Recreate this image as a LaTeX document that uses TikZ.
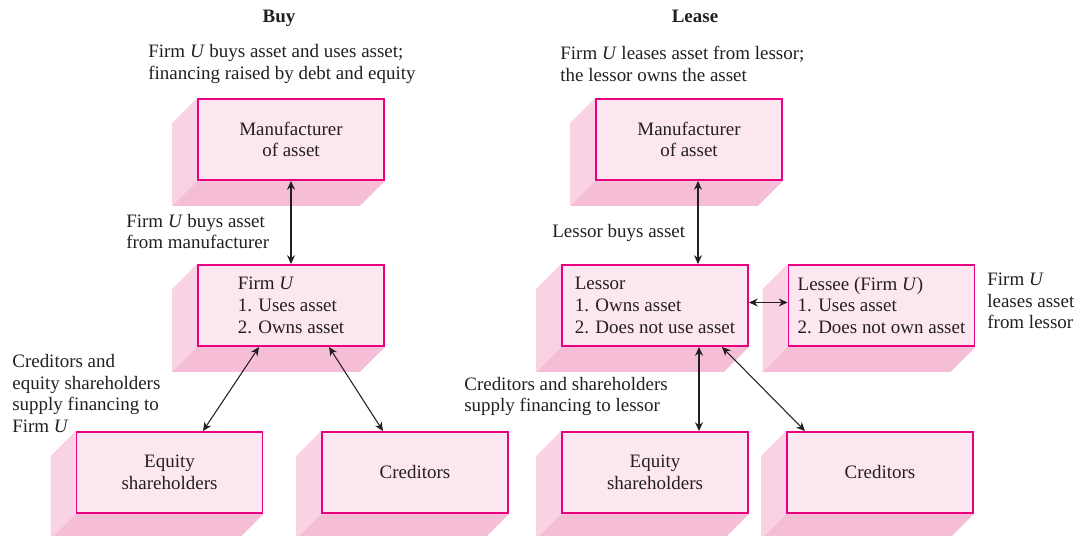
\documentclass[tikz,border=0pt]{standalone}
\usepackage{fontspec}
\setmainfont{Liberation Serif}
\usetikzlibrary{arrows.meta, positioning, calc, backgrounds}

\definecolor{boxrim}{RGB}{232,0,128}
\definecolor{boxfill}{RGB}{252,230,240}
\definecolor{sideface}{RGB}{249,210,228}
\definecolor{bottomface}{RGB}{246,190,214}
\definecolor{inkgray}{RGB}{35,31,32}

\begin{document}
\begin{tikzpicture}[x=0.02cm, y=-0.02cm, >={Stealth[length=5pt,width=4.5pt]},
        every node/.style={font=\fontsize{10.8}{12.4}\selectfont, inner sep=0pt, text=inkgray},
        block/.style={draw=boxrim, line width=1.1pt, fill=boxfill, minimum width=3.72cm, minimum height=1.62cm, align=center},
        listblock/.style={block, align=left},
        note/.style={anchor=west, align=left},
        heading/.style={anchor=base, font=\fontsize{10.8}{12.4}\selectfont\bfseries},
        link/.style={<->, line width=0.6pt, inkgray}]
        \useasboundingbox (0,0) rectangle (1078,536);
        % Headings
        \node[heading] (buytitle) at (279,23) {Buy};
        \node[heading] (leasetitle) at (695,23) {Lease};
        \node[note] (buytext) at (148,64) {Firm \textit{U} buys asset and uses asset;\\financing raised by debt and equity};
        \node[note] (leasetext) at (560,64) {Firm \textit{U} leases asset from lessor;\\the lessor owns the asset};
        % Buy side
        \node[block] (bman) at (291,139.5) {Manufacturer\\of asset};
        \node[listblock] (bfirm) at (291,305.5) {Firm \textit{U}\\1. Uses asset\\2. Owns asset};
        \node[block] (bequity) at (169.5,472.5) {Equity\\shareholders};
        \node[block] (bcred) at (415,472.5) {Creditors};
        % Lease side
        \node[block] (lman) at (689,139.5) {Manufacturer\\of asset};
        \node[listblock] (lessor) at (655,305.5) {Lessor\\1. Owns asset\\2. Does not use asset};
        \node[listblock] (lessee) at (881.5,305.5) {Lessee (Firm \textit{U})\\1. Uses asset\\2. Does not own asset};
        \node[block] (lequity) at (655,472.5) {Equity\\shareholders};
        \node[block] (lcred) at (880,472.5) {Creditors};
        % Side faces of the boxes
        \begin{scope}[on background layer]
            \foreach \b in {bman,bfirm,bequity,bcred,lman,lessor,lessee,lequity,lcred}{
                \fill[sideface] (\b.north west) -- ++(-25,25) -- ($(\b.south west)+(-25,25)$) -- (\b.south west) -- cycle;
                \fill[bottomface] (\b.south west) -- ++(-25,25) -- ($(\b.south east)+(-25,25)$) -- (\b.south east) -- cycle;
            }
        \end{scope}
        % Connectors
        \draw[link] (bman) -- (bfirm);
        \draw[link] ($(bfirm.south)+(-32,0)$) -- ($(bequity.north)+(33.5,0)$);
        \draw[link] ($(bfirm.south)+(38,0)$) -- ($(bcred.north)+(-32,0)$);
        \draw[link] ($(lman.south)+(9,0)$) -- ($(lessor.north)+(43,0)$);
        \draw[link] ($(lessor.east)+(0,-3)$) -- ($(lessee.west)+(0,-3)$);
        \draw[link] ($(lessor.south)+(44,0)$) -- ($(lequity.north)+(44,0)$);
        \draw[link] ($(lessor.south)+(67,0)$) -- ($(lcred.north)+(-75,0)$);
        % Labels
        \node[note] (buylabel) at (126,231.5) {Firm \textit{U} buys asset\\from manufacturer};
        \node[note] (finlabel) at (12,393.5) {Creditors and\\equity shareholders\\supply financing to\\Firm \textit{U}};
        \node[note] (lbuylabel) at (552,233) {Lessor buys asset};
        \node[note] (lfinlabel) at (464,396.5) {Creditors and shareholders\\supply financing to lessor};
        \node[note] (leaselabel) at (987,301) {Firm \textit{U}\\leases asset\\from lessor};
    \end{tikzpicture}
\end{document}
